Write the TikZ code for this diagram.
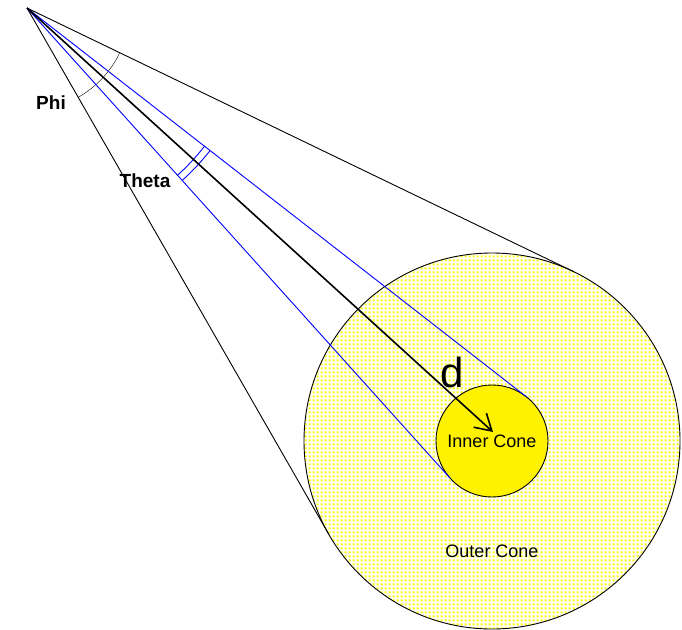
\documentclass[tikz,border=0pt]{standalone}
\usepackage{fontspec}
\setmainfont{Liberation Sans}
\usetikzlibrary{calc,arrows.meta,patterns.meta}

\tikzdeclarepattern{
	name=yellowdots,
	type=uncolored,
	bounding box={(0pt,0pt) and (4pt,4pt)},
	tile size={(4pt,4pt)},
	code={\fill (0.8pt,0.8pt) rectangle (3.2pt,3.2pt);}
}

\begin{document}
\begin{tikzpicture}[x=1pt,y=-1pt]
			\useasboundingbox (0,0) rectangle (682,629);
			\coordinate (apex) at (27,8);
			\coordinate (dtip) at (493,432);
			\begin{scope}[every node/.style={circle,draw=black,line width=0.9pt,inner sep=0pt,outer sep=0pt}]
	    		\node [pattern=yellowdots,pattern color=yellow,minimum size=376pt] (outer) at (492,441) {};
	    		\node [fill=yellow,minimum size=112pt,font=\fontsize{18}{20}\selectfont] (inner) at (492,441) {Inner Cone};
			\end{scope}

			\coordinate (outerA) at (tangent cs:node=outer,point={(apex)},solution=1);
			\coordinate (outerB) at (tangent cs:node=outer,point={(apex)},solution=2);
			\coordinate (innerA) at (tangent cs:node=inner,point={(apex)},solution=1);
			\coordinate (innerB) at (tangent cs:node=inner,point={(apex)},solution=2);

			\begin{scope}[every edge/.style={draw=black,line width=0.9pt}]
				\path (apex) edge (outerA);
	    		\path (apex) edge (outerB);
	    		\draw (apex) ++(25.75:103) arc[start angle=25.75,end angle=60.17,radius=103];
			\end{scope}
			\begin{scope}[every edge/.style={draw=blue,line width=0.9pt}]
				\path (apex) edge (innerA);
	    		\path (apex) edge (innerB);
	    		\draw [blue,line width=0.9pt] (apex) ++(37.9:225) arc[start angle=37.9,end angle=48,radius=225];
	    		\draw [blue,line width=0.9pt] (apex) ++(37.9:232) arc[start angle=37.9,end angle=48,radius=232];
			\end{scope}
			\path [-{Straight Barb[length=16pt,width=19pt]}] (apex) edge [draw=black,line width=1.6pt] (dtip);

			\begin{scope}[every node/.style={font=\fontsize{19}{21}\selectfont\bfseries}]
	    		\node (phi) at (51,103) {Phi};
	    		\node (theta) at (145,181) {Theta};
			\end{scope}
			\node [font=\fontsize{42}{44}\selectfont] (d) at (452,372) {d};
			\node [font=\fontsize{18}{20}\selectfont] (outerlabel) at (492,551) {Outer Cone};
		\end{tikzpicture}
\end{document}
